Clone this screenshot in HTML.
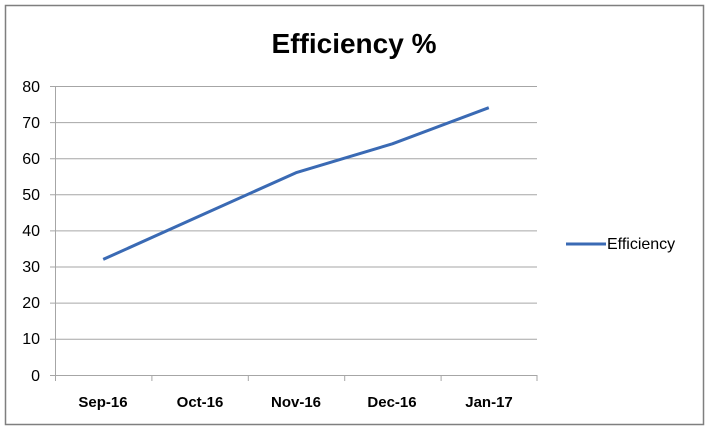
<!DOCTYPE html>
<html><head><style>
body{margin:0;background:#fff;}
svg{display:block;font-family:"Liberation Sans",Arial,sans-serif;}
</style></head><body>
<svg width="709" height="431" viewBox="0 0 709 431">
<rect x="5.5" y="5.5" width="698" height="419" fill="#fff" stroke="#7f7f7f" stroke-width="1.5"/>
<text x="354" y="53" font-size="28" font-weight="bold" text-anchor="middle" fill="#000">Efficiency %</text>
<g stroke="#a6a6a6" stroke-width="1">
<line x1="50" y1="86.5" x2="537" y2="86.5"/>
<line x1="50" y1="122.6" x2="537" y2="122.6"/>
<line x1="50" y1="158.7" x2="537" y2="158.7"/>
<line x1="50" y1="194.8" x2="537" y2="194.8"/>
<line x1="50" y1="230.9" x2="537" y2="230.9"/>
<line x1="50" y1="267" x2="537" y2="267"/>
<line x1="50" y1="303.1" x2="537" y2="303.1"/>
<line x1="50" y1="339.2" x2="537" y2="339.2"/>
<line x1="50" y1="375.5" x2="537" y2="375.5"/>
<line x1="55.5" y1="86" x2="55.5" y2="375"/>
<line x1="55.5" y1="375" x2="55.5" y2="381"/>
<line x1="151.9" y1="375" x2="151.9" y2="381"/>
<line x1="248.3" y1="375" x2="248.3" y2="381"/>
<line x1="344.7" y1="375" x2="344.7" y2="381"/>
<line x1="441.1" y1="375" x2="441.1" y2="381"/>
<line x1="537" y1="375" x2="537" y2="381"/>
</g>
<g font-size="16" fill="#000" text-anchor="end">
<text x="40" y="92">80</text><text x="40" y="128">70</text><text x="40" y="164">60</text>
<text x="40" y="200">50</text><text x="40" y="236">40</text><text x="40" y="272">30</text>
<text x="40" y="308">20</text><text x="40" y="344">10</text><text x="40" y="381">0</text>
</g>
<g font-size="15" font-weight="bold" fill="#000" text-anchor="middle">
<text x="103" y="407">Sep-16</text><text x="200" y="407">Oct-16</text><text x="296" y="407">Nov-16</text>
<text x="392" y="407">Dec-16</text><text x="489" y="407">Jan-17</text>
</g>
<polyline points="103.2,259.4 199.6,216 296,172.7 392.4,143.8 488.8,107.7" fill="none" stroke="#3a6ab4" stroke-width="3" stroke-linejoin="round"/>
<line x1="566" y1="244" x2="606" y2="244" stroke="#3a6ab4" stroke-width="3"/>
<text x="607" y="249" font-size="16" fill="#000">Efficiency</text>
</svg>
</body></html>
